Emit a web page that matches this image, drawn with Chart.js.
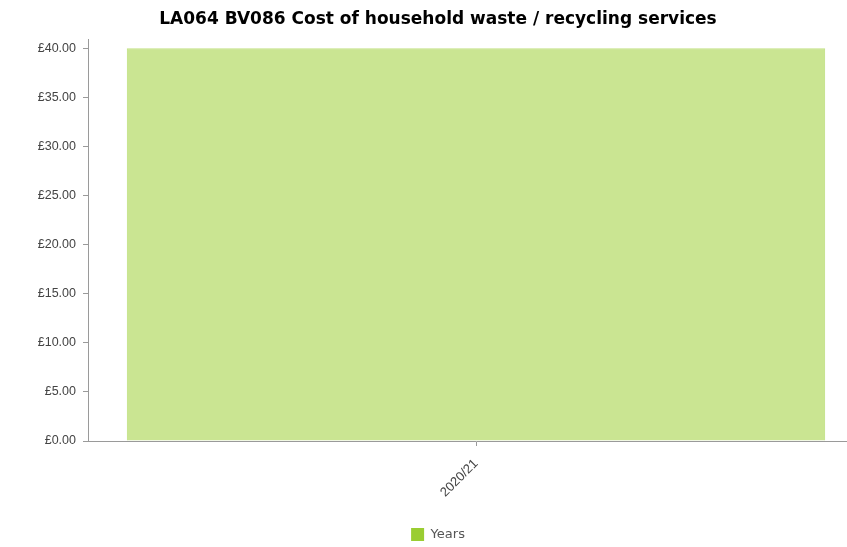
<!DOCTYPE html>
<html>
<head>
<meta charset="utf-8">
<script src="https://cdn.jsdelivr.net/npm/chart.js@4.4.1/dist/chart.umd.min.js"></script>
<style>
  html, body { margin: 0; padding: 0; background: #fff; overflow: hidden; }
  #wrap { width: 847px; height: 547px; overflow: hidden; position: relative; }
  canvas { display: block; }
</style>
</head>
<body>
<div id="wrap"><canvas id="chart" width="864" height="547"></canvas></div>
<script>
// Cost of household waste / recycling services per year
const categories = ['2020/21'];
const costValues = [40.00];
const seriesName = 'Years';
const chartTitle = 'LA064 BV086 Cost of household waste / recycling services';

const axisGrey = '#9a9a9a';
const tickText = '#444444';

new Chart(document.getElementById('chart'), {
  type: 'bar',
  data: {
    labels: categories,
    datasets: [{
      label: seriesName,
      data: costValues,
      backgroundColor: 'rgba(154,205,50,0.53)',
      borderColor: 'rgba(154,205,50,0.6)',
      borderWidth: 1,
      categoryPercentage: 1.0,
      barPercentage: 0.9
    }]
  },
  options: {
    responsive: false,
    animation: false,
    devicePixelRatio: 1,
    layout: { padding: { left: 12, right: 0, top: 0, bottom: -4 } },
    plugins: {
      title: {
        display: true,
        text: chartTitle,
        color: '#000',
        font: { family: 'DejaVu Sans', size: 17, weight: 'bold' },
        padding: { top: 9, bottom: 10 }
      },
      legend: {
        position: 'bottom',
        labels: {
          boxWidth: 13,
          boxHeight: 13,
          padding: 2,
          color: '#555',
          font: { family: 'DejaVu Sans', size: 13 },
          generateLabels() {
            return [{
              text: seriesName,
              fillStyle: '#9acd32',
              strokeStyle: '#9acd32',
              lineWidth: 0,
              fontColor: '#555',
              datasetIndex: 0
            }];
          }
        }
      },
      tooltip: { enabled: false }
    },
    scales: {
      x: {
        grid: { drawOnChartArea: false, drawTicks: true, tickLength: 5, offset: false, color: axisGrey },
        border: { color: axisGrey, width: 1 },
        ticks: {
          color: tickText,
          font: { family: 'Liberation Sans', size: 13 },
          maxRotation: 45,
          minRotation: 45,
          padding: 10
        },
        afterFit(scale) { scale.height = 85; }
      },
      y: {
        min: 0,
        max: 40.9,
        grid: { drawOnChartArea: false, drawTicks: true, tickLength: 5, color: axisGrey },
        border: { color: axisGrey, width: 1 },
        ticks: {
          stepSize: 5,
          includeBounds: false,
          color: tickText,
          padding: 7,
          font: { family: 'Liberation Sans', size: 12.5 },
          callback: v => '£' + Number(v).toFixed(2)
        },
        afterFit(scale) { scale.width = 76; }
      }
    }
  }
});
</script>
</body>
</html>
